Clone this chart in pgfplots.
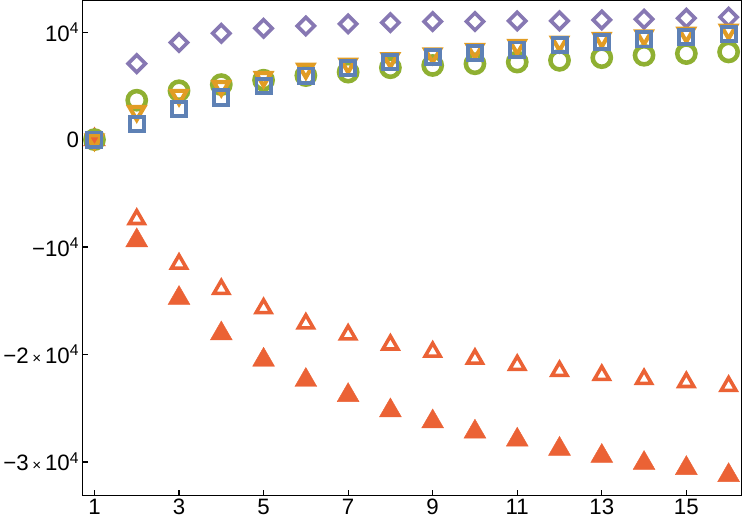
\documentclass[border=0pt]{standalone}
\usepackage{fontspec}
\setmainfont{Liberation Sans}
\usepackage{pgfplots}
\pgfplotsset{compat=1.18}
\definecolor{mblue}{HTML}{5E81B5}
\definecolor{morange}{HTML}{E19C24}
\definecolor{mgreen}{HTML}{8FB032}
\definecolor{mred}{HTML}{EB6235}
\definecolor{mpurple}{HTML}{8778B3}
\begin{document}
\begin{tikzpicture}
\begin{axis}[
  scale only axis, width=651pt, height=489pt,
  xmin=0.718, xmax=16.30, ymin=-33130, ymax=12930,
  axis line style={line width=1.4pt, black},
  xtick={1,3,5,7,9,11,13,15},
  xticklabels={1,3,5,7,9,11,13,15},
  ytick={-30000,-20000,-10000,0,10000},
  yticklabels={−3\,{\fontsize{15}{15}\selectfont ×}\,10\textsuperscript{4},
               −2\,{\fontsize{15}{15}\selectfont ×}\,10\textsuperscript{4},
               −10\textsuperscript{4},0,10\textsuperscript{4}},
  tick align=inside, xtick pos=bottom, ytick pos=left,
  major tick length=5pt,
  tick style={line width=1.2pt, black},
  tick label style={font=\fontsize{22}{26}\selectfont},
  scaled y ticks=false,
]
% red filled triangles
\addplot[only marks, color=mred, mark=triangle*, mark size=12.5pt, mark options={draw=none, fill=mred}] coordinates {
(1,0)(2,-9390)(3,-14760)(4,-18060)(5,-20510)(6,-22390)(7,-23800)(8,-25220)(9,-26250)(10,-27200)
(11,-27950)(12,-28800)(13,-29460)(14,-30120)(15,-30590)(16,-31250)};
% red open triangles
\addplot[only marks, color=mred, mark=triangle, mark size=8.5pt, mark options={draw=mred, fill=none, line width=3.5pt}] coordinates {
(1,0)(2,-7410)(3,-11560)(4,-13920)(5,-15710)(6,-17120)(7,-18150)(8,-19090)(9,-19750)(10,-20410)
(11,-20980)(12,-21540)(13,-21920)(14,-22300)(15,-22580)(16,-22950)};
% purple diamonds
\addplot[only marks, color=mpurple, mark=square, mark size=6pt, mark options={draw=mpurple, fill=none, line width=3.6pt, rotate=45}] coordinates {
(1,0)(2,7070)(3,9040)(4,9890)(5,10360)(6,10580)(7,10770)(8,10890)(9,10990)(10,10990)
(11,11050)(12,11050)(13,11140)(14,11210)(15,11300)(16,11400)};
% green circles
\addplot[only marks, color=mgreen, mark=o, mark size=9pt, mark options={draw=mgreen, fill=none, line width=4.5pt}] coordinates {
(1,0)(2,3670)(3,4550)(4,5120)(5,5530)(6,5960)(7,6280)(8,6690)(9,6900)(10,7060)
(11,7220)(12,7380)(13,7630)(14,7850)(15,8010)(16,8160)};
% orange down triangles
\addplot[only marks, color=morange, mark=triangle, mark size=8.5pt, mark options={draw=morange, fill=none, line width=4pt, rotate=180}] coordinates {
(1,0)(2,2640)(3,4130)(4,4960)(5,5800)(6,6580)(7,7050)(8,7560)(9,7990)(10,8410)
(11,8790)(12,9100)(13,9450)(14,9670)(15,9920)(16,10200)};
% blue squares
\addplot[only marks, color=mblue, mark=square, mark size=7pt, mark options={draw=mblue, fill=none, line width=3.8pt}] coordinates {
(1,0)(2,1470)(3,2830)(4,3920)(5,5020)(6,5960)(7,6690)(8,7220)(9,7690)(10,8060)
(11,8380)(12,8790)(13,9100)(14,9330)(15,9580)(16,9800)};
\end{axis}
\end{tikzpicture}
\end{document}
